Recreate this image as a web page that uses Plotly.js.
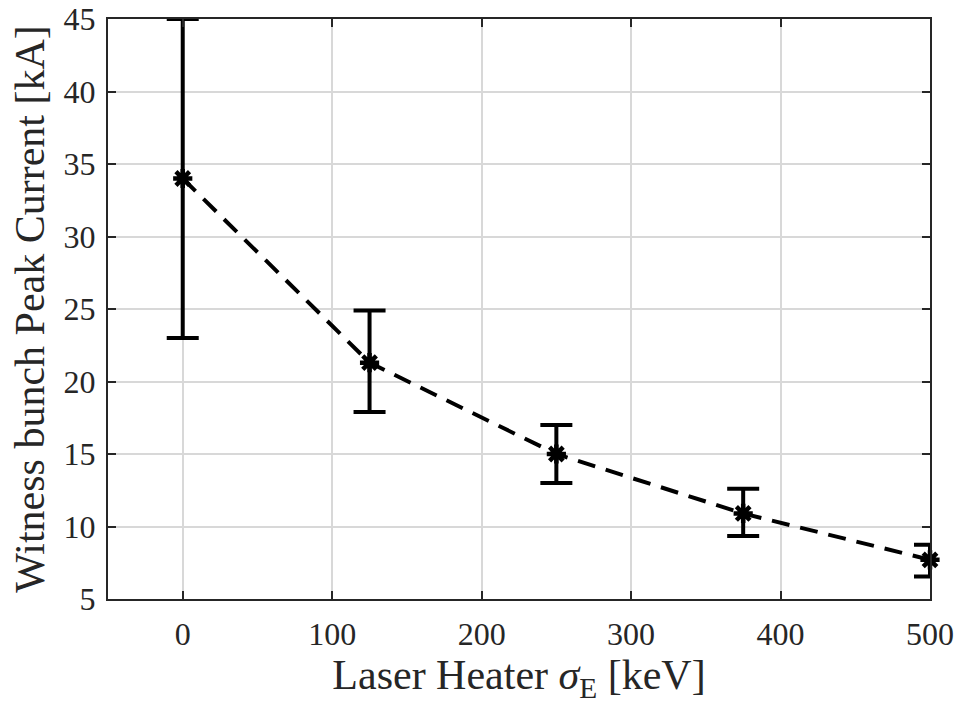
<!DOCTYPE html>
<html>
<head>
<meta charset="utf-8">
<script src="https://cdn.plot.ly/plotly-3.0.1.min.js"></script>
<style>html,body{margin:0;padding:0;background:#fff;}#chart{width:965px;height:705px;}</style>
</head>
<body>
<div id="chart"></div>
<script>
const sigmaE = [0, 125, 250, 375, 500];
const peakCurrent = [34, 21.3, 15, 10.9, 7.7];
const errPlus = [11, 3.6, 2.0, 1.7, 1.05];
const errMinus = [11, 3.4, 2.0, 1.55, 1.15];
const xTicks = [0, 100, 200, 300, 400, 500];
const yTicks = [5, 10, 15, 20, 25, 30, 35, 40, 45];

const trace = {
  x: sigmaE,
  y: peakCurrent,
  type: 'scatter',
  mode: 'lines+markers',
  line: {color: '#000', width: 4, dash: '18px,11px'},
  marker: {symbol: 'asterisk-open', size: 16, color: '#000', line: {color: '#000', width: 4.5}},
  error_y: {type: 'data', symmetric: false, array: errPlus, arrayminus: errMinus, color: '#000', thickness: 4, width: 16},
  cliponaxis: false,
  showlegend: false
};

const fontFam = '"Liberation Serif", "Times New Roman", serif';
const layout = {
  width: 965, height: 705,
  margin: {l: 108, r: 35, t: 19, b: 106},
  paper_bgcolor: '#fff', plot_bgcolor: '#fff',
  font: {family: fontFam, color: '#262626'},
  xaxis: {
    range: [-50, 500], tickvals: xTicks, ticktext: xTicks.map(String),
    showgrid: true, gridcolor: '#d8d8d8', gridwidth: 2,
    zeroline: false, showline: true, linecolor: '#262626', linewidth: 2, mirror: 'ticks',
    ticks: 'inside', ticklen: 8, tickwidth: 2, tickcolor: '#262626',
    tickfont: {size: 32, family: fontFam, color: '#262626'}, ticklabelstandoff: 6,
    title: {text: 'Laser Heater <i>σ</i><sub>E</sub> [keV]', font: {size: 42, family: fontFam, color: '#262626'}, standoff: 6}
  },
  yaxis: {
    range: [5, 45], tickvals: yTicks, ticktext: yTicks.map(String),
    showgrid: true, gridcolor: '#d8d8d8', gridwidth: 2,
    zeroline: false, showline: true, linecolor: '#262626', linewidth: 2, mirror: 'ticks',
    ticks: 'inside', ticklen: 8, tickwidth: 2, tickcolor: '#262626',
    tickfont: {size: 32, family: fontFam, color: '#262626'}, ticklabelstandoff: 4,
    title: {text: 'Witness bunch Peak Current [kA]', font: {size: 42, family: fontFam, color: '#262626'}, standoff: 6}
  }
};

Plotly.newPlot('chart', [trace], layout, {displayModeBar: false, staticPlot: true});
</script>
</body>
</html>
